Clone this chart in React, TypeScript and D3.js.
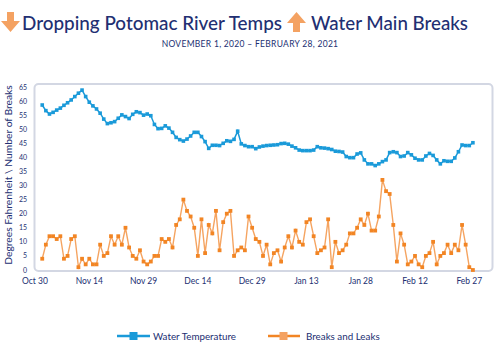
import React from "react";
import * as d3 from "d3";

const temperature: number[] = [
  58.6, 56.6, 55.4, 56, 56.8, 57.5, 58.5, 59.4, 60.4, 61.6,
  62.8, 63.9, 61.6, 59.6, 58.3, 57.2, 55.7, 53.6, 52, 52.3,
  52.7, 53.9, 55.1, 54.5, 53.8, 55.3, 56.2, 55.9, 55, 55.4,
  54.8, 51.7, 50.2, 50.3, 51.2, 50.4, 48.9, 47.1, 46.3, 45.8,
  46.5, 47.6, 48.9, 48.9, 47.4, 45.6, 43.2, 44.3, 44.3, 44.2,
  45, 45.9, 45.7, 46.4, 49.3, 44.8, 44.2, 43.8, 43.8, 43.1,
  43.7, 44, 44.2, 44.3, 44.4, 44.5, 44.9, 45, 44.7, 44,
  43.4, 42.6, 42.4, 42.4, 42.4, 42.6, 43.8, 43.4, 43.3, 43.1,
  42.8, 42.2, 42.1, 41.9, 40.3, 39.9, 39.9, 41.2, 41.6, 39.1,
  37.7, 37.7, 37.1, 37.7, 38.5, 39.1, 41.7, 42, 41.7, 40.3,
  40.5, 41.7, 40.9, 39.7, 39.1, 39.1, 40.5, 41.4, 40.7, 39.1,
  37.7, 38.8, 38.6, 38.6, 39.8, 42, 44.4, 44.2, 44.2, 45.2,
];

const breaks: number[] = [
  4, 9, 12, 12, 11, 12, 4, 5, 11, 12,
  1, 4, 2, 4, 2, 2, 9, 5, 6, 12,
  9, 12, 9, 15, 8, 5, 4, 7, 3, 2,
  3, 5, 5, 11, 10, 11, 8, 16, 18, 25,
  21, 19, 15, 5, 18, 6, 16, 13, 21, 7,
  17, 20, 21, 5, 7, 8, 7, 19, 15, 11,
  10, 5, 9, 2, 6, 7, 3, 8, 12, 8,
  14, 10, 9, 17, 18, 12, 6, 7, 8, 18,
  1, 10, 6, 7, 9, 13, 13, 15, 18, 16,
  20, 14, 14, 19, 32, 28, 27, 16, 3, 13,
  9, 2, 3, 5, 2, 1, 5, 6, 10, 2,
  5, 6, 9, 6, 9, 7, 16, 9, 1, 0,
];

const startDate = new Date(2020, 10, 1);
const dates: Date[] = d3.timeDay.range(startDate, new Date(2021, 2, 1));

const xTickDates: Date[] = [
  new Date(2020, 9, 30),
  new Date(2020, 10, 14),
  new Date(2020, 10, 29),
  new Date(2020, 11, 14),
  new Date(2020, 11, 29),
  new Date(2021, 0, 13),
  new Date(2021, 0, 28),
  new Date(2021, 1, 12),
  new Date(2021, 1, 27),
];
const xTickLabels: string[] = [
  "Oct 30", "Nov 14", "Nov 29", "Dec 14", "Dec 29", "Jan 13", "Jan 28", "Feb 12", "Feb 27",
];
const yTicks: number[] = d3.range(0, 66, 5);

const NAVY = "#222f72";
const BLUE = "#1a9ad9";
const ORANGE_LINE = "#f5a461";
const ORANGE_MARK = "#f28524";
const ARROW = "#f4a262";

export default function App() {
  const x = d3
    .scaleTime()
    .domain([new Date(2020, 9, 30), new Date(2021, 2, 5)])
    .range([35, 491]);
  const y = d3.scaleLinear().domain([0, 65]).range([270, 87]);

  const tempLine = d3
    .line<number>()
    .x((_, i) => x(dates[i]))
    .y((d) => y(d));
  const breakLine = d3
    .line<number>()
    .x((_, i) => x(dates[i]))
    .y((d) => y(d));

  const font = "'Lato', 'Open Sans', sans-serif";

  return (
    <svg
      width={501}
      height={356}
      style={{ position: "absolute", left: 0, top: 0, background: "#fff" }}
      fontFamily={font}
    >
      {/* Title arrows */}
      <path
        d="M7,12 L14,12 L14,21 L20,21 L10.5,32 L1,21 L7,21 Z"
        fill={ARROW}
      />
      <path
        d="M293,32 L300,32 L300,23 L306,23 L296.5,12 L287,23 L293,23 Z"
        fill={ARROW}
      />
      <text
        x={22}
        y={30}
        fontSize={20}
        fill={NAVY}
        fontWeight={500}
        textLength={260}
        lengthAdjust="spacingAndGlyphs"
      >
        Dropping Potomac River Temps
      </text>
      <text
        x={311}
        y={30}
        fontSize={20}
        fill={NAVY}
        fontWeight={500}
        textLength={157}
        lengthAdjust="spacingAndGlyphs"
      >
        Water Main Breaks
      </text>
      <text
        x={250}
        y={47}
        fontSize={8.5}
        fill={NAVY}
        textAnchor="middle"
        letterSpacing={0.3}
      >
        NOVEMBER 1, 2020 – FEBRUARY 28, 2021
      </text>

      {/* Plot frame */}
      <rect
        x={34.5}
        y={84}
        width={458}
        height={187}
        rx={4}
        fill="none"
        stroke="#d3d7e3"
        strokeWidth={2}
      />

      {/* Y axis ticks */}
      {yTicks.map((t) => (
        <text
          key={t}
          x={27}
          y={y(t) + 2.5}
          fontSize={7}
          fill={NAVY}
          textAnchor="end"
        >
          {t}
        </text>
      ))}
      <text
        transform={`translate(12,175) rotate(-90)`}
        fontSize={10.3}
        fill={NAVY}
        textAnchor="middle"
      >
        Degrees Fahrenheit \ Number of Breaks
      </text>

      {/* X axis ticks */}
      {xTickDates.map((d, i) => (
        <text
          key={i}
          x={x(d)}
          y={284}
          fontSize={8.5}
          fill={NAVY}
          textAnchor="middle"
        >
          {xTickLabels[i]}
        </text>
      ))}

      {/* Temperature */}
      <path d={tempLine(temperature) || ""} fill="none" stroke={BLUE} strokeWidth={1.5} />
      {temperature.map((v, i) => (
        <rect
          key={"t" + i}
          x={x(dates[i]) - 1.8}
          y={y(v) - 1.8}
          width={3.6}
          height={3.6}
          fill={BLUE}
        />
      ))}

      {/* Breaks */}
      <path d={breakLine(breaks) || ""} fill="none" stroke={ORANGE_LINE} strokeWidth={1.4} />
      {breaks.map((v, i) => (
        <rect
          key={"b" + i}
          x={x(dates[i]) - 1.9}
          y={y(v) - 1.9}
          width={3.8}
          height={3.8}
          fill={ORANGE_MARK}
        />
      ))}

      {/* Legend */}
      <line x1={117} x2={150} y1={336} y2={336} stroke={BLUE} strokeWidth={2.5} />
      <rect x={129.5} y={332} width={8} height={8} fill={BLUE} />
      <text x={153} y={339.5} fontSize={9.8} fill={NAVY}>
        Water Temperature
      </text>
      <line x1={268} x2={300} y1={336} y2={336} stroke={ORANGE_MARK} strokeWidth={2.5} />
      <rect x={279.5} y={332} width={8} height={8} fill={ARROW} />
      <text x={306} y={339.5} fontSize={9.8} fill={NAVY}>
        Breaks and Leaks
      </text>
    </svg>
  );
}
